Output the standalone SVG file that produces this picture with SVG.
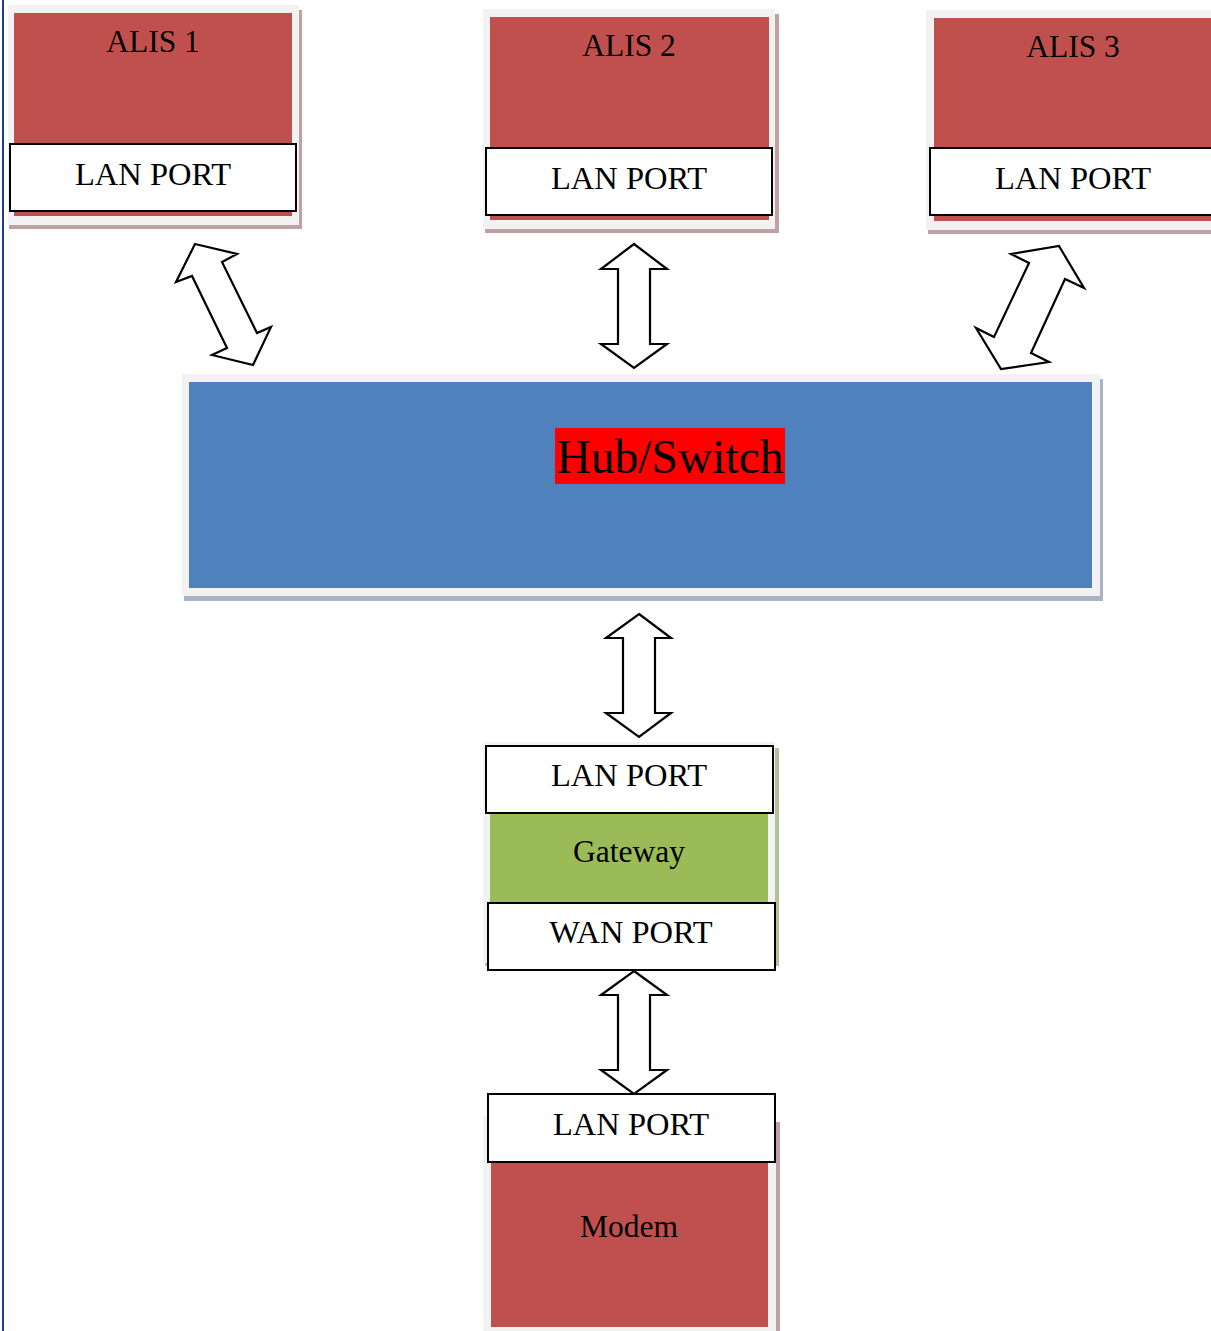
<svg xmlns="http://www.w3.org/2000/svg" width="1211" height="1331" viewBox="0 0 1211 1331">
<style>
.frame{fill:#F2F2F2}
.red{fill:#C0504D}
.blue{fill:#4F81BD}
.green{fill:#9BBB59}
.shr{fill:#C0A0A2}
.shb{fill:#A8B4C6}
.shg{fill:#B4C29A}
.port{fill:#FFFFFF;stroke:#000000;stroke-width:2}
.arrow{fill:#FFFFFF;stroke:#000000;stroke-width:2.2;stroke-linejoin:miter}
text{font-family:"Liberation Serif","Times New Roman",serif;font-size:31.5px;fill:#000000;text-anchor:middle}
.lp{font-size:32.5px}
</style>
<rect x="0" y="0" width="1211" height="1331" fill="#FFFFFF"/>
<rect x="2" y="0" width="2" height="1331" fill="#1F3C96"/>

<g id="alis1">
<rect class="shr" x="9" y="10" width="293" height="219"/>
<rect class="frame" x="8" y="5" width="291" height="220"/>
<rect class="red" x="14" y="13" width="278" height="203"/>
<rect class="port" x="10" y="144" width="286" height="67"/>
<text x="153" y="52">ALIS 1</text>
<text class="lp" x="153" y="185">LAN PORT</text>
</g>

<g id="alis2">
<rect class="shr" x="485" y="14" width="294" height="219"/>
<rect class="frame" x="483" y="9" width="292" height="220"/>
<rect class="red" x="490" y="17" width="279" height="203"/>
<rect class="port" x="486" y="148" width="286" height="67"/>
<text x="629" y="56">ALIS 2</text>
<text class="lp" x="629" y="189">LAN PORT</text>
</g>

<g id="alis3">
<rect class="shr" x="928" y="15" width="290" height="219"/>
<rect class="frame" x="926" y="10" width="290" height="220"/>
<rect class="red" x="934" y="18" width="280" height="203"/>
<rect class="port" x="930" y="148" width="290" height="67"/>
<text x="1073" y="57">ALIS 3</text>
<text class="lp" x="1073" y="189">LAN PORT</text>
</g>

<g id="hub">
<rect class="shb" x="184" y="379" width="919" height="222"/>
<rect class="frame" x="182" y="374" width="918" height="222"/>
<rect class="blue" x="189" y="382" width="903" height="206"/>
<rect x="555" y="428" width="230" height="56" fill="#FF0000"/>
<text x="670" y="473" style="font-size:47.5px">Hub/Switch</text>
</g>

<g id="gateway">
<rect class="shg" x="485" y="748" width="294" height="218"/>
<rect class="frame" x="483" y="742" width="292" height="221"/>
<rect class="green" x="490" y="813" width="278" height="90"/>
<rect class="port" x="486" y="746" width="287" height="67"/>
<text x="629" y="862" style="font-size:31.5px">Gateway</text>
<rect class="port" x="488" y="903" width="287" height="67"/>
<text class="lp" x="631" y="943">WAN PORT</text>
<text class="lp" x="629" y="786">LAN PORT</text>
</g>

<g id="modem">
<rect class="shr" x="485" y="1122" width="295" height="209"/>
<rect class="frame" x="483" y="1116" width="293" height="215"/>
<rect class="red" x="491" y="1163" width="277" height="164"/>
<rect class="port" x="488" y="1094" width="287" height="68"/>
<text class="lp" x="631" y="1135">LAN PORT</text>
<text x="629" y="1237">Modem</text>
</g>

<g id="connectors">
<polygon class="arrow" points="195,244 237,254 222,262 257,333 271,327 253,365 212,355 227,348 192,276 176,282"/>
<polygon class="arrow" points="634,244 667,269 650,269 650,344 667,344 634,368 601,344 618,344 618,269 601,269"/>
<polygon class="arrow" points="1059,246 1084,288 1065,279 1031,353 1049,362 1001,369 976,328 994,337 1029,263 1011,254"/>
<polygon class="arrow" points="639,614 671,638 655,638 655,713 671,713 639,737 606,713 623,713 623,638 606,638"/>
<polygon class="arrow" points="634,971 667,995 650,995 650,1070 667,1070 634,1094 601,1070 618,1070 618,995 601,995"/>
</g>
</svg>
